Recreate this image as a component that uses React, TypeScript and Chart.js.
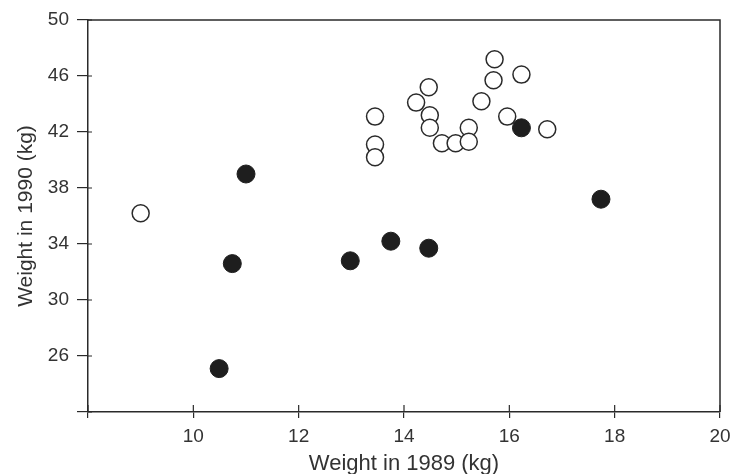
import React, { useEffect, useRef } from "react";
import { Chart, registerables } from "chart.js";

Chart.register(...registerables);

// Open circles
const openX = [9.0, 13.45, 13.45, 13.45, 15.72, 15.7, 16.23, 15.47, 14.47, 14.23, 14.49, 14.49, 14.72, 14.98, 15.23, 15.23, 15.96, 16.72];
const openY = [36.2, 43.1, 41.1, 40.2, 47.2, 45.7, 46.1, 44.2, 45.2, 44.1, 43.2, 42.3, 41.2, 41.2, 42.3, 41.3, 43.1, 42.2];
// Filled circles
const filledX = [11.0, 10.74, 10.49, 12.98, 13.75, 14.47, 16.23, 17.74];
const filledY = [39.0, 32.6, 25.1, 32.8, 34.2, 33.7, 42.3, 37.2];

const xTicks = [8, 10, 12, 14, 16, 18, 20];
const yTicks = [22, 26, 30, 34, 38, 42, 46, 50];
const xTitle = "Weight in 1989 (kg)";
const yTitle = "Weight in 1990 (kg)";

const INK = "#2a2a2a";

const framePlugin = {
  id: "frame",
  afterDraw(chart: any) {
    const { ctx, chartArea, scales } = chart;
    const { left, right, top, bottom } = chartArea;
    ctx.save();
    ctx.strokeStyle = INK;
    ctx.lineWidth = 1.5;
    ctx.beginPath();
    ctx.moveTo(left, top);
    ctx.lineTo(right, top);
    ctx.lineTo(right, bottom);
    ctx.stroke();
    ctx.lineWidth = 1.2;
    ctx.beginPath();
    for (const v of xTicks) {
      const px = scales.x.getPixelForValue(v);
      ctx.moveTo(px, bottom);
      ctx.lineTo(px, bottom - 7);
    }
    for (const v of yTicks) {
      const py = scales.y.getPixelForValue(v);
      ctx.moveTo(left, py);
      ctx.lineTo(left + 4, py);
    }
    ctx.stroke();
    ctx.restore();
  },
};

export default function App() {
  const ref = useRef<HTMLCanvasElement | null>(null);

  useEffect(() => {
    if (!ref.current) return;
    const fam = "'Liberation Sans', Arial, Helvetica, sans-serif";
    const tickFont = { family: fam, size: 19 };
    const chart = new Chart(ref.current, {
      type: "scatter",
      data: {
        datasets: [
          {
            label: "filled",
            data: filledX.map((x, i) => ({ x, y: filledY[i] })),
            pointRadius: 9,
            pointBackgroundColor: "#1e1e1e",
            pointBorderColor: "#1e1e1e",
            pointBorderWidth: 1,
          },
          {
            label: "open",
            data: openX.map((x, i) => ({ x, y: openY[i] })),
            pointRadius: 8.5,
            pointBackgroundColor: "#ffffff",
            pointBorderColor: INK,
            pointBorderWidth: 1.5,
          },
        ],
      },
      options: {
        animation: false,
        responsive: false,
        maintainAspectRatio: false,
        layout: { padding: { top: 20, right: 12, left: 0, bottom: 0 } },
        plugins: { legend: { display: false }, tooltip: { enabled: false } },
        scales: {
          x: {
            type: "linear",
            min: 8,
            max: 20,
            afterBuildTicks: (s: any) => {
              s.ticks = xTicks.map((v) => ({ value: v }));
            },
            afterFit: (s: any) => {
              s.height = 62;
              s.paddingLeft = 0;
              s.paddingRight = 0;
            },
            ticks: {
              font: tickFont,
              color: "#333",
              padding: 7,
              maxRotation: 0,
              callback: (v: any) => (v === 8 ? "" : String(v)),
            },
            grid: { drawOnChartArea: false, drawTicks: true, tickLength: 6, color: INK, lineWidth: 1.2 },
            border: { display: true, color: INK, width: 1.5 },
            title: { display: true, text: xTitle, font: { family: fam, size: 22 }, color: "#333", padding: { top: 0, bottom: -3 } },
          },
          y: {
            type: "linear",
            min: 22,
            max: 50,
            afterBuildTicks: (s: any) => {
              s.ticks = yTicks.map((v) => ({ value: v }));
            },
            afterFit: (s: any) => {
              s.width = 88;
              s.paddingTop = 0;
              s.paddingBottom = 0;
            },
            ticks: {
              font: tickFont,
              color: "#333",
              padding: 8,
              callback: (v: any) => (v === 22 ? "" : String(v)),
            },
            grid: { drawOnChartArea: false, drawTicks: true, tickLength: 11, color: INK, lineWidth: 1.2 },
            border: { display: true, color: INK, width: 1.5 },
            title: { display: true, text: yTitle, font: { family: fam, size: 21 }, color: "#333", padding: { top: 14, bottom: 0 } },
          },
        },
      },
      plugins: [framePlugin],
    });
    return () => chart.destroy();
  }, []);

  return (
    <div style={{ position: "fixed", left: 0, top: 0, width: 732, height: 474, background: "#fff" }}>
      <canvas ref={ref} width={732} height={474} style={{ display: "block" }} />
    </div>
  );
}
